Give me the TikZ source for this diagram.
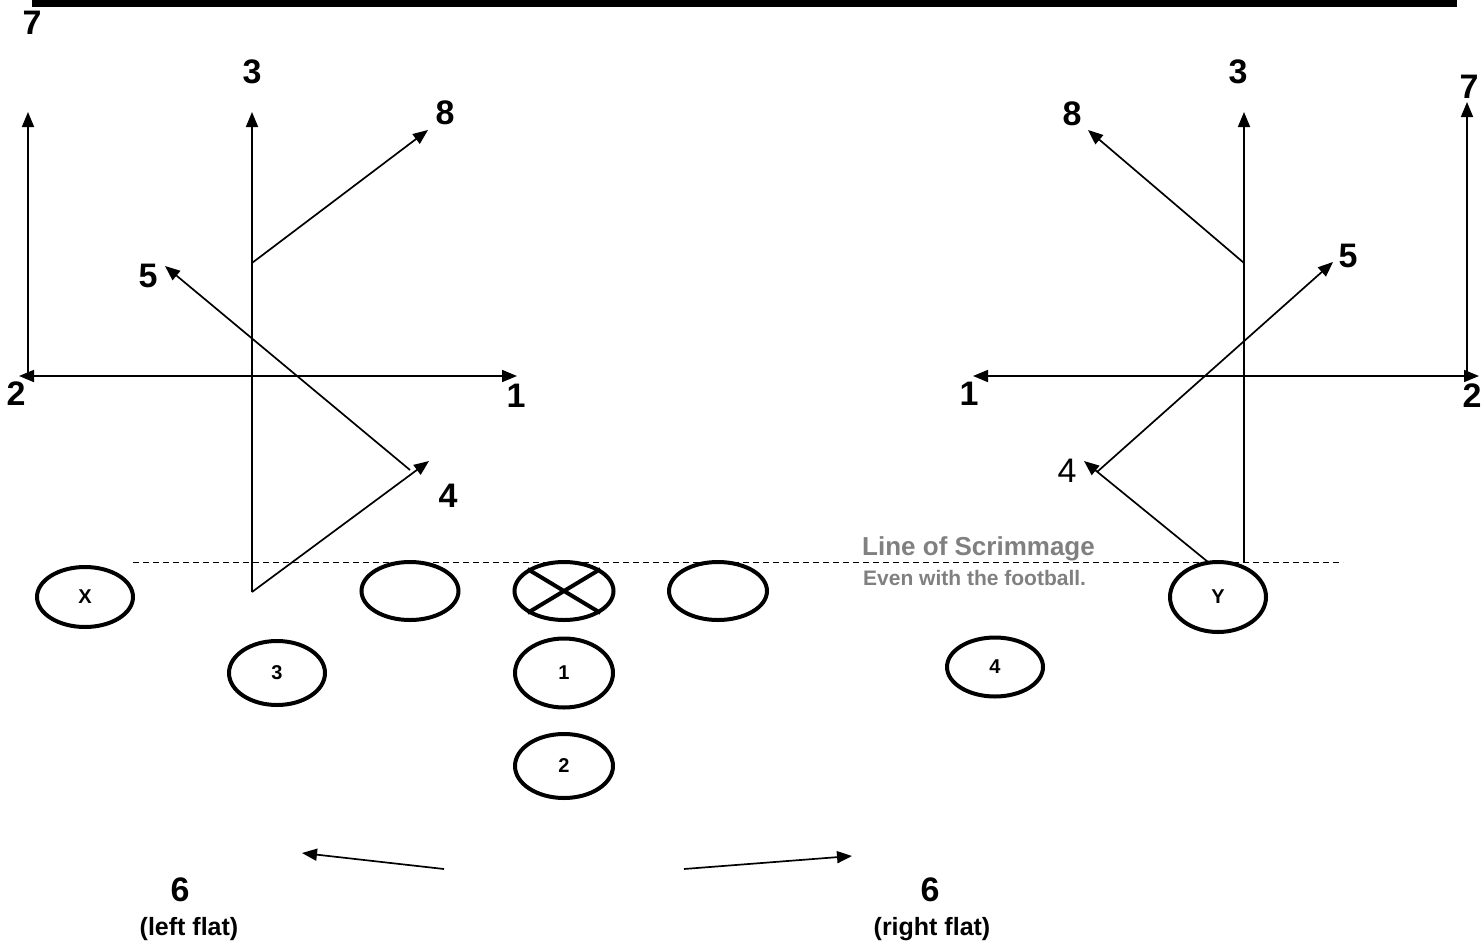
\documentclass[tikz,border=0pt]{standalone}
\usepackage{fontspec}
\setmainfont{Liberation Sans}
\usetikzlibrary{arrows.meta,shapes.geometric}
\begin{document}
\begin{tikzpicture}[x=1pt,y=-1pt,
  route/.style={line width=1.7pt,-{Triangle[length=15pt,width=12pt]}},
  twoway/.style={line width=1.7pt,{Triangle[length=15pt,width=12pt]}-{Triangle[length=15pt,width=12pt]}},
  player/.style={draw,ellipse,line width=4pt,minimum width=96pt,minimum height=60pt,inner sep=0pt,font=\fontsize{20}{22}\selectfont\bfseries},
  big/.style={font=\fontsize{34}{36}\selectfont\bfseries,inner sep=0pt},
  bigreg/.style={font=\fontsize{34}{36}\selectfont,inner sep=0pt},
  flat/.style={font=\fontsize{25}{27}\selectfont\bfseries,inner sep=0pt},
  los/.style={text=gray,inner sep=0pt,anchor=west}
]
\useasboundingbox (0,0) rectangle (1483,945);
% top bar
\fill (32,0) rectangle (1457,7);
% line of scrimmage
\draw[line width=1pt,dash pattern=on 6pt off 4pt] (133,562) -- (1343,562);
\node[los,font=\fontsize{26}{28}\selectfont\bfseries] (lostitle) at (862,549) {Line of Scrimmage};
\node[los,font=\fontsize{21}{23}\selectfont\bfseries] (losnote) at (863,578) {Even with the football.};

% players
\node[player] (X) at (85,597) {X};
\node[player,minimum width=97pt,minimum height=58pt] (LG) at (410,591) {};
\node[player,minimum width=99pt,minimum height=58pt] (C) at (564,591) {};
\draw[line width=4pt] (C.north west) -- (C.south east) (C.north east) -- (C.south west);
\node[player,minimum width=98pt,minimum height=58pt] (RG) at (718,591) {};
\node[player,minimum width=98pt,minimum height=69pt] (QB) at (564,673) {1};
\node[player,minimum width=98pt,minimum height=64pt] (FB) at (564,766) {2};
\node[player,minimum height=64pt] (B3) at (277,673) {3};
\node[player,minimum height=59pt] (B4) at (995,667) {4};
\node[player,minimum height=70pt] (Y) at (1218,597) {Y};

% left routes
\coordinate (l2) at (19,376);
\coordinate (l1) at (517,376);
\coordinate (l7base) at (28,376);
\coordinate (l7tip) at (28,112);
\coordinate (l3base) at (252,592);
\coordinate (l3tip) at (252,112);
\coordinate (l8break) at (252,263);
\coordinate (l8tip) at (428,130);
\coordinate (l4tip) at (429,461);
\coordinate (l5start) at (410,470);
\coordinate (l5tip) at (165,266);
\draw[twoway] (l2) -- (l1);
\draw[route] (l7base) -- (l7tip);
\draw[route] (l3base) -- (l3tip);
\draw[route] (l8break) -- (l8tip);
\draw[route] (l3base) -- (l4tip);
\draw[route] (l5start) -- (l5tip);

\node[big] (t7l) at (32,23) {7};
\node[big] (t3l) at (252,72) {3};
\node[big] (t8l) at (445,113) {8};
\node[big] (t5l) at (148,276) {5};
\node[big] (t2l) at (16,394) {2};
\node[big] (t1l) at (516,396) {1};
\node[big] (t4l) at (448,496) {4};

% right routes
\coordinate (r1) at (973,376);
\coordinate (r2) at (1479,376);
\coordinate (r7base) at (1467,376);
\coordinate (r7tip) at (1467,102);
\coordinate (r3base) at (1244,562);
\coordinate (r3tip) at (1244,112);
\coordinate (r8break) at (1244,263);
\coordinate (r8tip) at (1088,130);
\coordinate (r4base) at (1208,562);
\coordinate (r4tip) at (1084,461);
\coordinate (r5start) at (1097,472);
\coordinate (r5tip) at (1333,262);
\draw[twoway] (r1) -- (r2);
\draw[route] (r7base) -- (r7tip);
\draw[route] (r3base) -- (r3tip);
\draw[route] (r8break) -- (r8tip);
\draw[route] (r4base) -- (r4tip);
\draw[route] (r5start) -- (r5tip);

\node[big] (t7r) at (1469,87) {7};
\node[big] (t3r) at (1238,72) {3};
\node[big] (t8r) at (1072,114) {8};
\node[big] (t5r) at (1348,256) {5};
\node[big] (t1r) at (969,394) {1};
\node[big] (t2r) at (1472,396) {2};
\node[bigreg] (t4r) at (1067,471) {4};

% flats
\coordinate (fls) at (444,869);
\coordinate (flt) at (302,853);
\coordinate (frs) at (684,869);
\coordinate (frt) at (852,856);
\draw[route] (fls) -- (flt);
\draw[route] (frs) -- (frt);
\node[big] (f6l) at (180,890) {6};
\node[flat] (fll) at (189,929) {(left flat)};
\node[big] (f6r) at (930,890) {6};
\node[flat] (frl) at (932,929) {(right flat)};
\end{tikzpicture}
\end{document}
